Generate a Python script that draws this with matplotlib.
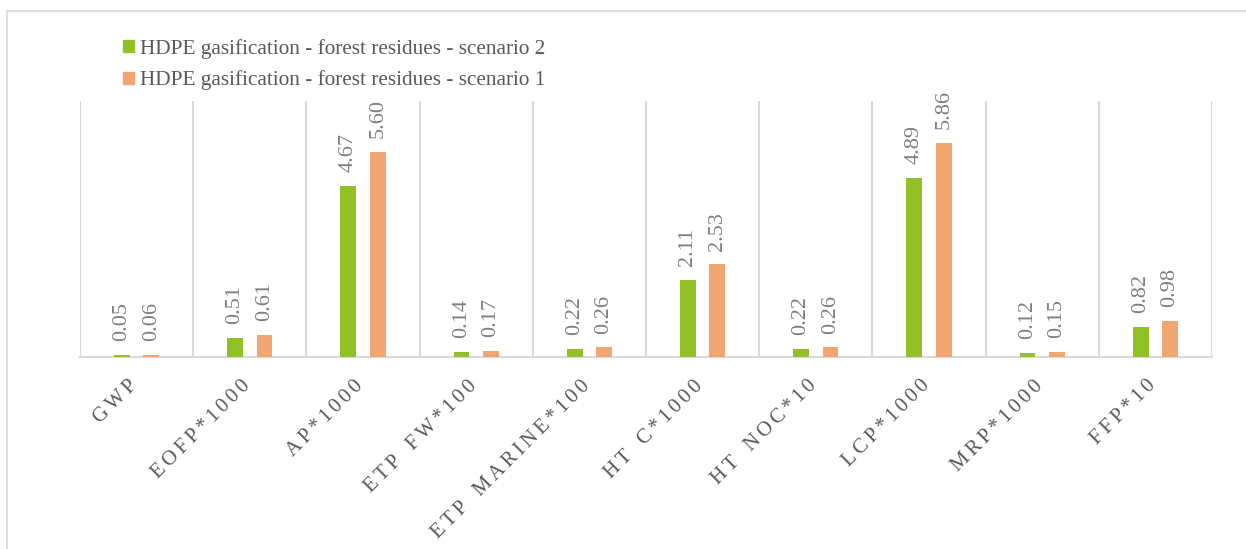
import numpy as np
import matplotlib
matplotlib.use("Agg")
import matplotlib.pyplot as plt
from matplotlib.patches import Rectangle, Patch
from matplotlib.transforms import ScaledTranslation

# impact categories and normalised scores
categories = ["GWP", "EOFP*1000", "AP*1000", "ETP FW*100", "ETP MARINE*100",
              "HT C*1000", "HT NOC*10", "LCP*1000", "MRP*1000", "FFP*10"]
scenario_2 = [0.05, 0.51, 4.67, 0.14, 0.22, 2.11, 0.22, 4.89, 0.12, 0.82]
scenario_1 = [0.06, 0.61, 5.60, 0.17, 0.26, 2.53, 0.26, 5.86, 0.15, 0.98]
series_names = ["HDPE gasification - forest residues - scenario 2",
                "HDPE gasification - forest residues - scenario 1"]

green = "#92C127"
orange = "#F2A571"
grid_col = "#D9D9D9"
text_col = "#595959"
label_col = "#7F7F7F"

plt.rcParams["font.family"] = ["Liberation Serif", "DejaVu Serif"]

GAP = "\u2006"


def spaced(s):
    # widen the letter spacing of the axis labels
    return GAP.join(c if c != " " else " " + GAP for c in s)


fig = plt.figure(figsize=(12.46, 5.49), dpi=100)
W, H = 1246, 549

# chart border
fig.patches.append(Rectangle((7 / W, 0 - 0.1), 1.2, 1 - 11 / H + 0.1,
                             transform=fig.transFigure, fill=False,
                             edgecolor=grid_col, linewidth=1.2))

ax = fig.add_axes([80 / W, 1 - 357 / H, (1212 - 80) / W, (357 - 101) / H])

x = np.arange(len(categories))
bw = 0.14
off = 0.13
b2 = ax.bar(x - off, scenario_2, bw, color=green, zorder=3)
b1 = ax.bar(x + off, scenario_1, bw, color=orange, zorder=3)

for bars, vals in ((b2, scenario_2), (b1, scenario_1)):
    for rect, v in zip(bars, vals):
        ax.annotate(f"{v:.2f}", (rect.get_x() + rect.get_width() / 2, v),
                    xytext=(0, 10), textcoords="offset points",
                    rotation=90, ha="center", va="bottom",
                    fontsize=16, color=label_col)

ax.set_xlim(-0.5, len(categories) - 0.5)
ax.set_ylim(0, 7)

# category separators
for b in np.arange(-0.5, len(categories), 1.0):
    ax.axvline(b, color=grid_col, linewidth=1.5, zorder=1)

for s in ("top", "left", "right"):
    ax.spines[s].set_visible(False)
ax.spines["bottom"].set_color(grid_col)
ax.spines["bottom"].set_linewidth(1.5)
ax.set_yticks([])
ax.set_xticks(x)
ax.set_xticklabels([spaced(c) for c in categories], rotation=45, ha="right",
                   rotation_mode="anchor", fontsize=15, color=text_col)
ax.tick_params(axis="x", length=0, pad=14)
shift = ScaledTranslation(-9 / 100, 0, fig.dpi_scale_trans)
for lab in ax.get_xticklabels():
    lab.set_transform(lab.get_transform() + shift)

handles = [Patch(color=green), Patch(color=orange)]
fig.legend(handles, series_names, loc="upper left",
           bbox_to_anchor=(123 / W, 1 - 39 / H), frameon=False,
           fontsize=15.3, labelcolor=text_col, handlelength=0.5,
           handleheight=0.5, handletextpad=0.3, labelspacing=0.55,
           borderpad=0, borderaxespad=0)

fig.savefig("out.png", dpi=100)
